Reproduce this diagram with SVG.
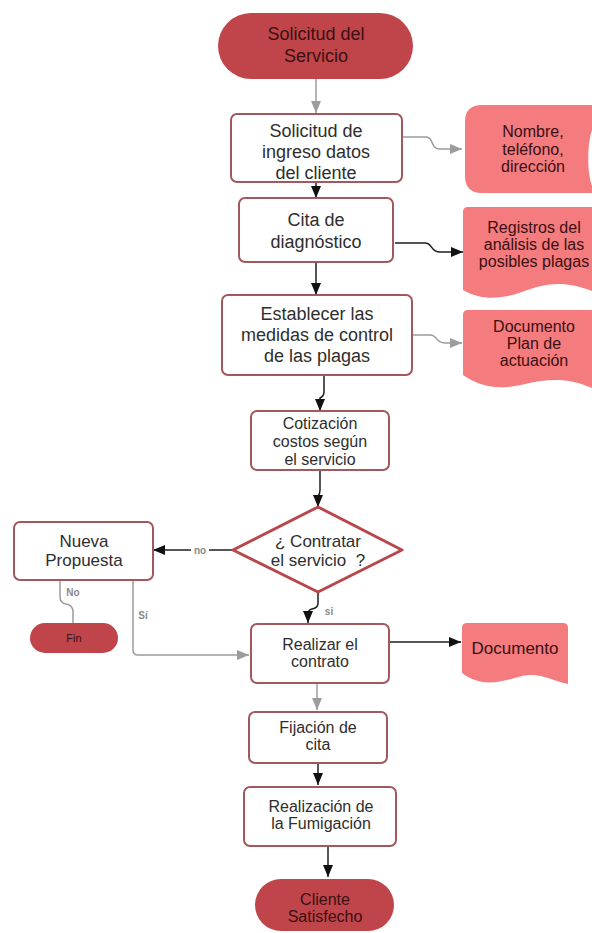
<svg xmlns="http://www.w3.org/2000/svg" width="592" height="933" viewBox="0 0 592 933">
<style>
.t{font-family:"Liberation Sans",Arial,sans-serif;font-size:17px;fill:#2e2e2e;text-anchor:middle}
.tt{font-family:"Liberation Sans",Arial,sans-serif;font-size:17px;fill:#3a1012;text-anchor:middle}
.big{font-size:18px}
.sm{font-size:16px}
.fin{font-size:11px}
.lbl{font-family:"Liberation Sans",Arial,sans-serif;font-size:10px;font-weight:bold;fill:#8a8a8a;text-anchor:middle}
.proc{fill:#ffffff;stroke:#a2585c;stroke-width:2}
.term{fill:#c0454a}
.doc{fill:#f47b7e}
.cb{fill:none;stroke:#1e1e1e;stroke-width:1.5}
.cg{fill:none;stroke:#9c9c9c;stroke-width:1.5}
</style>
<defs>
<marker id="ab" markerUnits="userSpaceOnUse" markerWidth="13" markerHeight="11" refX="12" refY="5" orient="auto"><path d="M0,0 L12,5 L0,10 z" fill="#111"/></marker>
<marker id="ag" markerUnits="userSpaceOnUse" markerWidth="13" markerHeight="11" refX="12" refY="5" orient="auto"><path d="M0,0 L12,5 L0,10 z" fill="#9c9c9c"/></marker>
</defs>
<rect width="592" height="933" fill="#ffffff"/>

<g id="connectors">
<path class="cg" d="M316,79 V113" marker-end="url(#ag)"/>
<path class="cb" d="M316,182 V198" marker-end="url(#ab)"/>
<path class="cb" d="M316,262 V295" marker-end="url(#ab)"/>
<path class="cb" d="M324,375 V392 Q324,396 320,398 V411" marker-end="url(#ab)"/>
<path class="cb" d="M320,470 V490 Q320,494 318,496 V507" marker-end="url(#ab)"/>
<path class="cb" d="M233,550 H153" marker-end="url(#ab)"/>
<path class="cb" d="M318,592 V603 Q318,608 312,609 Q308,610 308,614 V623" marker-end="url(#ab)"/>
<path class="cg" d="M60,580 V597 Q60,603 66,604 Q73,605 73,612 V623"/>
<path class="cg" d="M133,580 V650 Q133,655 138,655 H249" marker-end="url(#ag)"/>
<path class="cb" d="M389,642 H461" marker-end="url(#ab)"/>
<path class="cg" d="M317,683 V710" marker-end="url(#ag)"/>
<path class="cb" d="M318,763 V785" marker-end="url(#ab)"/>
<path class="cb" d="M328,846 V877" marker-end="url(#ab)"/>
<path class="cg" d="M403,137 H426 C434,137 430,149 440,149 H462" marker-end="url(#ag)"/>
<path class="cb" d="M395,243 H425 C433,243 430,252 440,252 H463" marker-end="url(#ab)"/>
<path class="cg" d="M412,335 H430 C438,335 435,343 445,343 H462" marker-end="url(#ag)"/>
<rect x="191" y="545" width="18" height="10" fill="#ffffff"/>
<text class="lbl" x="200" y="554">no</text>
<text class="lbl" x="73" y="596">No</text>
<text class="lbl" x="143" y="619">Sí</text>
<text class="lbl" x="329" y="615">si</text>
</g>

<g id="start">
<rect class="term" x="218" y="13" width="195" height="66" rx="33"/>
<text class="tt big" x="316" y="40">Solicitud del</text>
<text class="tt big" x="316" y="62">Servicio</text>
</g>

<g id="box1">
<rect class="proc" x="231" y="114" width="171" height="68" rx="6"/>
<text class="t big" x="316" y="137">Solicitud de</text>
<text class="t big" x="316" y="158">ingreso datos</text>
<text class="t big" x="316" y="179">del cliente</text>
</g>

<g id="nombre">
<path class="doc" d="M482,105 H592 V130 C587,145 587,172 592,186 V193 H482 Q465,193 465,176 V122 Q465,105 482,105 Z"/>
<text class="tt sm" x="533" y="137">Nombre,</text>
<text class="tt sm" x="533" y="155">teléfono,</text>
<text class="tt sm" x="533" y="172">dirección</text>
</g>

<g id="box2">
<rect class="proc" x="239" y="198" width="154" height="64" rx="6"/>
<text class="t big" x="316" y="226">Cita de</text>
<text class="t big" x="316" y="248">diagnóstico</text>
</g>

<g id="registros">
<path class="doc" d="M468,207 H592 V291 C565,280 545,283 522,292 C500,300 480,300 463,290 V212 Q463,207 468,207 Z"/>
<text class="tt sm" x="534" y="233">Registros del</text>
<text class="tt sm" x="534" y="250">análisis de las</text>
<text class="tt sm" x="534" y="267">posibles plagas</text>
</g>

<g id="box3">
<rect class="proc" x="222" y="295" width="190" height="80" rx="6"/>
<text class="t big" x="317" y="320">Establecer las</text>
<text class="t big" x="317" y="341">medidas de control</text>
<text class="t big" x="317" y="362">de las plagas</text>
</g>

<g id="plan">
<path class="doc" d="M468,310 H592 V388 C570,378 550,378 525,384 C500,390 482,388 463,375 V315 Q463,310 468,310 Z"/>
<text class="tt sm" x="534" y="332">Documento</text>
<text class="tt sm" x="534" y="349">Plan de</text>
<text class="tt sm" x="534" y="366">actuación</text>
</g>

<g id="box4">
<rect class="proc" x="251" y="411" width="138" height="59" rx="6"/>
<text class="t sm" x="320" y="429">Cotización</text>
<text class="t sm" x="320" y="447">costos según</text>
<text class="t sm" x="320" y="465">el servicio</text>
</g>

<g id="decision">
<path d="M318,507 L402,550 L318,592 L233,550 Z" fill="#ffffff" stroke="#b8474c" stroke-width="3" stroke-linejoin="round"/>
<text class="t" x="318" y="547">¿ Contratar</text>
<text class="t" x="318" y="566" xml:space="preserve">el servicio  ?</text>
</g>

<g id="nueva">
<rect class="proc" x="14" y="522" width="139" height="58" rx="6"/>
<text class="t" x="84" y="547">Nueva</text>
<text class="t" x="84" y="566">Propuesta</text>
</g>

<g id="fin">
<rect class="term" x="30" y="623" width="88" height="30" rx="15"/>
<text class="tt fin" x="74" y="642">Fin</text>
</g>

<g id="contrato">
<rect class="proc" x="251" y="624" width="138" height="59" rx="6"/>
<text class="t sm" x="320" y="650">Realizar el</text>
<text class="t sm" x="320" y="667">contrato</text>
</g>

<g id="documento">
<path class="doc" d="M467,623 H563 Q568,623 568,628 V684 C550,680 540,672 522,676 C500,682 482,688 462,673 V628 Q462,623 467,623 Z"/>
<text class="tt" x="515" y="654">Documento</text>
</g>

<g id="fijacion">
<rect class="proc" x="249" y="712" width="138" height="51" rx="6"/>
<text class="t sm" x="318" y="733">Fijación de</text>
<text class="t sm" x="318" y="750">cita</text>
</g>

<g id="fumigacion">
<rect class="proc" x="244" y="787" width="152" height="59" rx="6"/>
<text class="t sm" x="321" y="812">Realización de</text>
<text class="t sm" x="321" y="829">la Fumigación</text>
</g>

<g id="end">
<rect class="term" x="255" y="879" width="139" height="52" rx="26"/>
<text class="tt sm" x="325" y="905">Cliente</text>
<text class="tt sm" x="325" y="922">Satisfecho</text>
</g>
</svg>
